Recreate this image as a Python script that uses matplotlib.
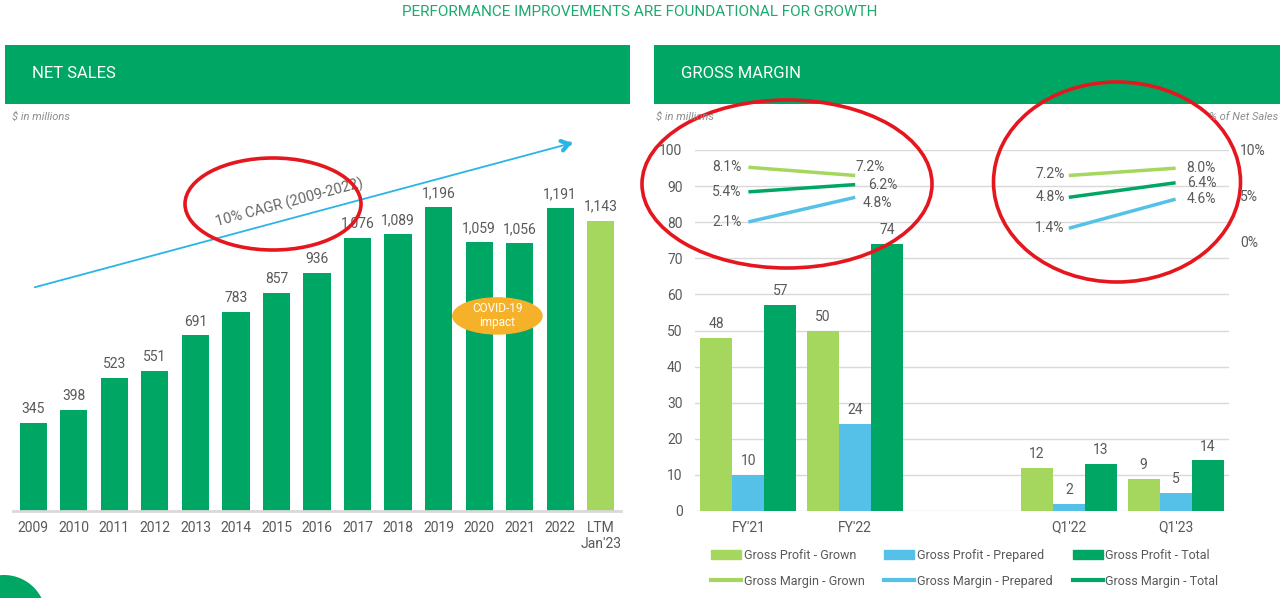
import matplotlib.pyplot as plt
from matplotlib.patches import Rectangle, Ellipse, Patch
from matplotlib.lines import Line2D
import numpy as np

# net sales, $ in millions
years = ['2009', '2010', '2011', '2012', '2013', '2014', '2015', '2016',
         '2017', '2018', '2019', '2020', '2021', '2022', "LTM\nJan'23"]
net_sales = [345, 398, 523, 551, 691, 783, 857, 936, 1076, 1089, 1196, 1059, 1056, 1191, 1143]

# gross margin panel
periods = ["FY'21", "FY'22", "Q1'22", "Q1'23"]
gp_grown = [48, 50, 12, 9]
gp_prepared = [10, 24, 2, 5]
gp_total = [57, 74, 13, 14]
gm_grown = [8.1, 7.2, 7.2, 8.0]
gm_prepared = [2.1, 4.8, 1.4, 4.6]
gm_total = [5.4, 6.2, 4.8, 6.4]

DARK = '#00A664'
LIGHT = '#A5D65E'
BLUE = '#55C1E9'
ORANGE = '#F5B12A'
RED = '#E5161E'
TXT = '#595959'
GRID = '#D9D9D9'

plt.rcParams['font.family'] = ['Roboto', 'DejaVu Sans']

W, H = 1280, 598
fig = plt.figure(figsize=(W / 100, H / 100), dpi=100)


def box(x0, y0, x1, y1):
    # pixel box measured from the top-left -> figure fraction rect
    return [x0 / W, 1 - y1 / H, (x1 - x0) / W, (y1 - y0) / H]


def fpt(x, y):
    return x / W, 1 - y / H


# title and panel headers
fig.text(*fpt(640, 12), 'PERFORMANCE IMPROVEMENTS ARE FOUNDATIONAL FOR GROWTH',
         color='#1BAA6E', fontsize=11, ha='center', va='center')
for x0, x1, title in [(5, 630, 'NET SALES'), (654, 1280, 'GROSS MARGIN')]:
    r = box(x0, 45, x1, 104)
    fig.add_artist(Rectangle((r[0], r[1]), r[2], r[3], transform=fig.transFigure,
                             color=DARK, lw=0))
    fig.text(*fpt(x0 + 27, 74), title, color='white', fontsize=12, va='center')
fig.text(*fpt(12, 117), '$ in millions', color='#8C8C8C', fontsize=8,
         style='italic', va='center')
fig.text(*fpt(656, 117), '$ in millions', color='#8C8C8C', fontsize=8,
         style='italic', va='center')
fig.text(*fpt(1278, 117), '% of Net Sales', color='#8C8C8C', fontsize=8,
         style='italic', va='center', ha='right')

# ---- net sales ----
ax1 = fig.add_axes(box(13, 130, 621, 511))
cols = [DARK] * (len(years) - 1) + [LIGHT]
ax1.bar(range(len(years)), net_sales, width=0.67, color=cols)
for i, v in enumerate(net_sales):
    ax1.annotate(f'{v:,}', (i, v), xytext=(0, 5), textcoords='offset points',
                 ha='center', va='bottom', fontsize=10, color=TXT)
ax1.set_xlim(-0.5, len(years) - 0.5)
ax1.set_ylim(0, 1500)
ax1.set_xticks(range(len(years)))
ax1.set_xticklabels(years)
ax1.set_yticks([])
for s in ['top', 'left', 'right']:
    ax1.spines[s].set_visible(False)
ax1.spines['bottom'].set_color(GRID)
ax1.spines['bottom'].set_linewidth(2)
ax1.tick_params(axis='x', length=0, pad=7, labelsize=10, labelcolor=TXT)

# CAGR arrow
p0 = ((32 - 13) / 608, (511 - 288) / 381)
p1 = ((572 - 13) / 608, (511 - 143) / 381)
ax1.annotate('', xy=p1, xytext=p0, xycoords='axes fraction',
             arrowprops=dict(arrowstyle='-', color='#2BB5E6', lw=1.3))
ax1.annotate('', xy=p1, xytext=(p1[0] - 0.004, p1[1] - 0.0017), xycoords='axes fraction',
             arrowprops=dict(arrowstyle='->,head_length=0.5,head_width=0.35',
                             color='#2BB5E6', lw=3))
ax1.text((289 - 13) / 608, (511 - 203) / 381, '10% CAGR (2009-2022)', transform=ax1.transAxes,
         rotation=15, ha='center', va='center', fontsize=10.5, color='#666666')

# covid bubble
ax1.add_patch(Ellipse((11.45, 768), 2.2, 142, color=ORANGE, zorder=3))
ax1.text(11.45, 768, 'COVID-19\nimpact', ha='center', va='center', color='white',
         fontsize=8.5, zorder=4, linespacing=1.1)

# ---- gross margin ----
ax2 = fig.add_axes(box(695, 150, 1229, 511))
x = np.array([0, 1, 3, 4])
w = 0.3
for off, vals, c in [(-w, gp_grown, LIGHT), (0, gp_prepared, BLUE), (w, gp_total, DARK)]:
    ax2.bar(x + off, vals, w, color=c, zorder=2)
    for xi, v in zip(x + off, vals):
        ax2.annotate(str(v), (xi, v), xytext=(0, 5), textcoords='offset points',
                     ha='center', va='bottom', fontsize=10, color=TXT, zorder=3)
ax2.set_xlim(-0.5, 4.5)
ax2.set_ylim(0, 100)
ax2.set_yticks(range(0, 101, 10))
ax2.set_xticks(x)
ax2.set_xticklabels(periods)
ax2.grid(axis='y', color=GRID, lw=1)
ax2.set_axisbelow(True)
for s in ax2.spines.values():
    s.set_visible(False)
ax2.tick_params(length=0, labelsize=10, labelcolor=TXT)
ax2.tick_params(axis='y', pad=9)
ax2.tick_params(axis='x', pad=7)

# margin % on the right scale
ax3 = ax2.twinx()
ax3.set_ylim(-29.67, 10)
ax3.set_yticks([0, 5, 10])
ax3.set_yticklabels(['0%', '5%', '10%'])
for s in ax3.spines.values():
    s.set_visible(False)
ax3.tick_params(length=0, labelsize=10, labelcolor=TXT, pad=8)

left_off = {'g': [(-5, 0), (-3, 1)], 't': [(-5, 0), (-3, 0)], 'p': [(-5, 0), (-3, 0)]}
right_off = {'g': [(0, 6), (8, 0)], 't': [(9, 0), (8, 0)], 'p': [(5, -4), (8, 0)]}
for key, vals, c in [('g', gm_grown, LIGHT), ('t', gm_total, DARK), ('p', gm_prepared, BLUE)]:
    for k, (a, b) in enumerate([(0, 1), (2, 3)]):
        ax3.plot([x[a], x[b]], [vals[a], vals[b]], color=c, lw=2.5, solid_capstyle='butt')
        ax3.annotate(f'{vals[a]:.1f}%', (x[a], vals[a]), xytext=left_off[key][k],
                     textcoords='offset points', ha='right', va='center',
                     fontsize=10, color=TXT)
        ax3.annotate(f'{vals[b]:.1f}%', (x[b], vals[b]), xytext=right_off[key][k],
                     textcoords='offset points', ha='left', va='center',
                     fontsize=10, color=TXT)

handles = [Patch(color=LIGHT), Line2D([], [], color=LIGHT, lw=3),
           Patch(color=BLUE), Line2D([], [], color=BLUE, lw=3),
           Patch(color=DARK), Line2D([], [], color=DARK, lw=3)]
labels = ['Gross Profit - Grown', 'Gross Margin - Grown',
          'Gross Profit - Prepared', 'Gross Margin - Prepared',
          'Gross Profit - Total', 'Gross Margin - Total']
fig.legend(handles, labels, ncol=3, loc='upper left', bbox_to_anchor=fpt(711, 549),
           frameon=False, fontsize=9, handlelength=2.4, handleheight=0.8,
           handletextpad=0.2, columnspacing=1.6, labelcolor=TXT, borderaxespad=0,
           borderpad=0, labelspacing=1.0)

# red hand-drawn circles
for cx, cy, ew, eh in [(273, 204, 176, 92), (787, 184, 290, 168), (1117, 182, 247, 200)]:
    fig.add_artist(Ellipse(fpt(cx, cy), ew / W, eh / H, transform=fig.transFigure,
                           fill=False, edgecolor=RED, lw=2.6))

# corner decoration
fig.add_artist(Ellipse(fpt(4, 617), 84 / W, 84 / H, transform=fig.transFigure,
                       color=DARK, lw=0))

fig.savefig('out.png', dpi=100, facecolor='white')
